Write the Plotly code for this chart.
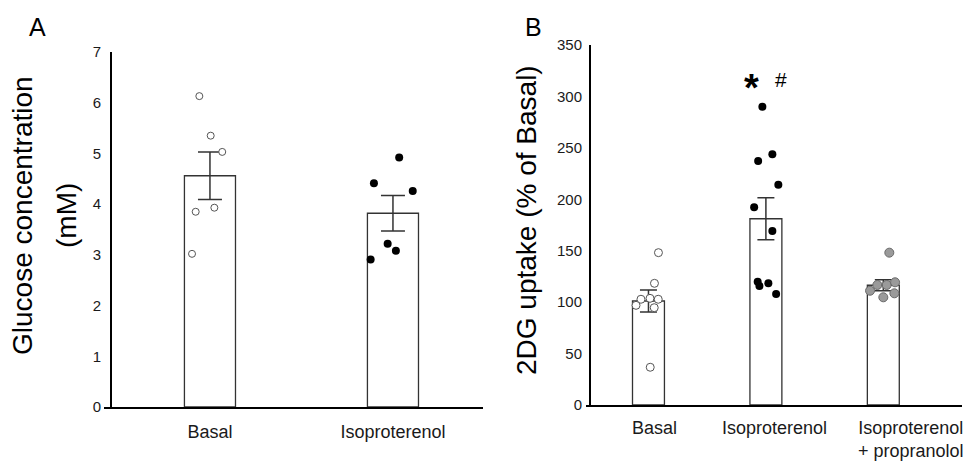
import plotly.graph_objects as go

# ---------------- Data ----------------
# Panel A
a_categories = ["Basal", "Isoproterenol"]
a_means = [4.56, 3.82]
a_sem = [0.47, 0.35]
a_basal_points = [6.13, 5.35, 5.03, 3.85, 3.93, 3.02]
a_iso_points = [4.92, 4.41, 4.26, 3.22, 3.08, 2.91]
a_yticks = [0, 1, 2, 3, 4, 5, 6, 7]

# Panel B
b_categories = ["Basal", "Isoproterenol", "Isoproterenol<br>+ propranolol"]
b_means = [101.1, 181.1, 116.4]
b_sem = [10.8, 20.4, 5.3]
b_basal_points = [148.1, 118.3, 102.8, 103.7, 102.8, 96.9, 94.6, 36.7]
b_iso_points = [290.0, 237.2, 243.7, 214.2, 192.2, 169.2, 119.9, 115.7, 118.3, 107.9]
b_prop_points = [148.1, 116.7, 116.7, 119.3, 111.1, 104.7, 108.6]
b_yticks = [0, 50, 100, 150, 200, 250, 300, 350]

# horizontal scatter of the dots around each bar centre (category units)
a_basal_jit = [-0.058, 0.004, 0.067, -0.078, 0.024, -0.098]
a_iso_jit = [0.034, -0.104, 0.108, -0.029, 0.016, -0.122]
b_basal_jit = [0.085, 0.051, -0.064, 0.013, 0.083, -0.106, 0.049, 0.015]
b_iso_jit = [-0.030, -0.066, 0.055, 0.106, -0.100, 0.055, -0.070, -0.055, 0.021, 0.087]
b_prop_jit = [0.051, -0.051, 0.029, 0.100, -0.113, 0.0, 0.094]

FONT = "Liberation Sans, Arial, sans-serif"
# the page body has an 8px margin; size the figure so it fits the window
OX, OY = 8, 8
W, H = 978 - OX, 463 - OY


def px(x):
    return (x - OX) / W


def py(y):
    return 1 - (y - OY) / H


fig = go.Figure()

# ---------------- Panel A ----------------
fig.add_trace(go.Bar(
    x=list(range(len(a_categories))), y=a_means, width=0.279,
    marker=dict(color="white", line=dict(color="#333333", width=1.3)),
    error_y=dict(type="data", array=a_sem, color="#333333", thickness=1.5, width=12),
    xaxis="x", yaxis="y", showlegend=False, hoverinfo="skip"))

fig.add_trace(go.Scatter(
    x=[0 + j for j in a_basal_jit], y=a_basal_points, mode="markers",
    marker=dict(size=7, color="white", line=dict(color="#555555", width=1)),
    xaxis="x", yaxis="y", showlegend=False))
fig.add_trace(go.Scatter(
    x=[1 + j for j in a_iso_jit], y=a_iso_points, mode="markers",
    marker=dict(size=8, color="black", line=dict(color="black", width=0)),
    xaxis="x", yaxis="y", showlegend=False))

# ---------------- Panel B ----------------
fig.add_trace(go.Bar(
    x=list(range(len(b_categories))), y=b_means, width=0.272,
    marker=dict(color="white", line=dict(color="#333333", width=1.3)),
    error_y=dict(type="data", array=b_sem, color="#333333", thickness=1.5, width=8.5),
    xaxis="x2", yaxis="y2", showlegend=False, hoverinfo="skip"))

fig.add_trace(go.Scatter(
    x=[0 + j for j in b_basal_jit], y=b_basal_points, mode="markers",
    marker=dict(size=8, color="white", line=dict(color="#555555", width=1)),
    xaxis="x2", yaxis="y2", showlegend=False))
fig.add_trace(go.Scatter(
    x=[1 + j for j in b_iso_jit], y=b_iso_points, mode="markers",
    marker=dict(size=8, color="black", line=dict(color="black", width=0)),
    xaxis="x2", yaxis="y2", showlegend=False))
fig.add_trace(go.Scatter(
    x=[2 + j for j in b_prop_jit], y=b_prop_points, mode="markers",
    marker=dict(size=9, color="#9a9a9a", line=dict(color="#6a6a6a", width=1)),
    xaxis="x2", yaxis="y2", showlegend=False))

axis_common = dict(showgrid=False, zeroline=False, showline=True,
                   linecolor="black", linewidth=2, ticks="", automargin=False)

fig.update_layout(
    width=W, height=H,
    autosize=False,
    margin=dict(l=0, r=0, t=0, b=0, pad=0),
    paper_bgcolor="white", plot_bgcolor="white",
    font=dict(family=FONT, color="#1a1a1a"),
    xaxis=dict(domain=[px(104), px(483)], range=[-0.579, 1.492],
               tickvals=[0, 1], ticktext=a_categories,
               tickfont=dict(size=18, family=FONT, color="#1a1a1a"),
               ticklabelstandoff=7,
               anchor="y", **axis_common),
    yaxis=dict(domain=[py(407), py(52)], range=[0, 7],
               tickvals=a_yticks,
               tickfont=dict(size=15, family=FONT, color="#1a1a1a"),
               anchor="free", position=px(111), ticklabelstandoff=6,
               **axis_common),
    xaxis2=dict(domain=[px(586), px(962)], range=[-0.532, 2.670],
                tickvals=[0, 1, 2], ticktext=["", "", ""],
                anchor="y2", **axis_common),
    yaxis2=dict(domain=[py(405), py(45)], range=[0, 350],
                tickvals=b_yticks,
                tickfont=dict(size=15, family=FONT, color="#1a1a1a"),
                anchor="free", position=px(590), ticklabelstandoff=4,
                **axis_common),
)

annotations = [
    # panel letters
    dict(text="A", x=px(37), y=py(27), xref="paper", yref="paper",
         showarrow=False, font=dict(size=25, family=FONT, color="black"),
         xanchor="center", yanchor="middle"),
    dict(text="B", x=px(533), y=py(27), xref="paper", yref="paper",
         showarrow=False, font=dict(size=25, family=FONT, color="black"),
         xanchor="center", yanchor="middle"),
    # y-axis titles
    dict(text="Glucose concentration", x=px(23), y=py(216), xref="paper", yref="paper",
         textangle=-90, showarrow=False, font=dict(size=28, family=FONT, color="black"),
         xanchor="center", yanchor="middle"),
    dict(text="(mM)", x=px(67), y=py(216), xref="paper", yref="paper",
         textangle=-90, showarrow=False, font=dict(size=28, family=FONT, color="black"),
         xanchor="center", yanchor="middle"),
    dict(text="2DG uptake (% of Basal)", x=px(526), y=py(220), xref="paper", yref="paper",
         textangle=-90, showarrow=False, font=dict(size=28, family=FONT, color="black"),
         xanchor="center", yanchor="middle"),
    # significance marks
    dict(text="<b>*</b>", x=1, y=316, xref="x2", yref="y2", xshift=-14, yshift=-8,
         showarrow=False, font=dict(size=38, family=FONT, color="black"),
         xanchor="center", yanchor="middle"),
    dict(text="#", x=1, y=316, xref="x2", yref="y2", xshift=15,
         showarrow=False, font=dict(size=21, family=FONT, color="black"),
         xanchor="center", yanchor="middle"),
]

# category labels of panel B
b_label_shift = [6, 9, 28]
for i, lab in enumerate(b_categories):
    annotations.append(dict(
        text=lab, x=i, y=py(416), xref="x2", yref="paper", xshift=b_label_shift[i],
        showarrow=False, font=dict(size=18, family=FONT, color="#1a1a1a"),
        xanchor="center", yanchor="top"))

fig.update_layout(annotations=annotations)

fig.write_html("out.html")
